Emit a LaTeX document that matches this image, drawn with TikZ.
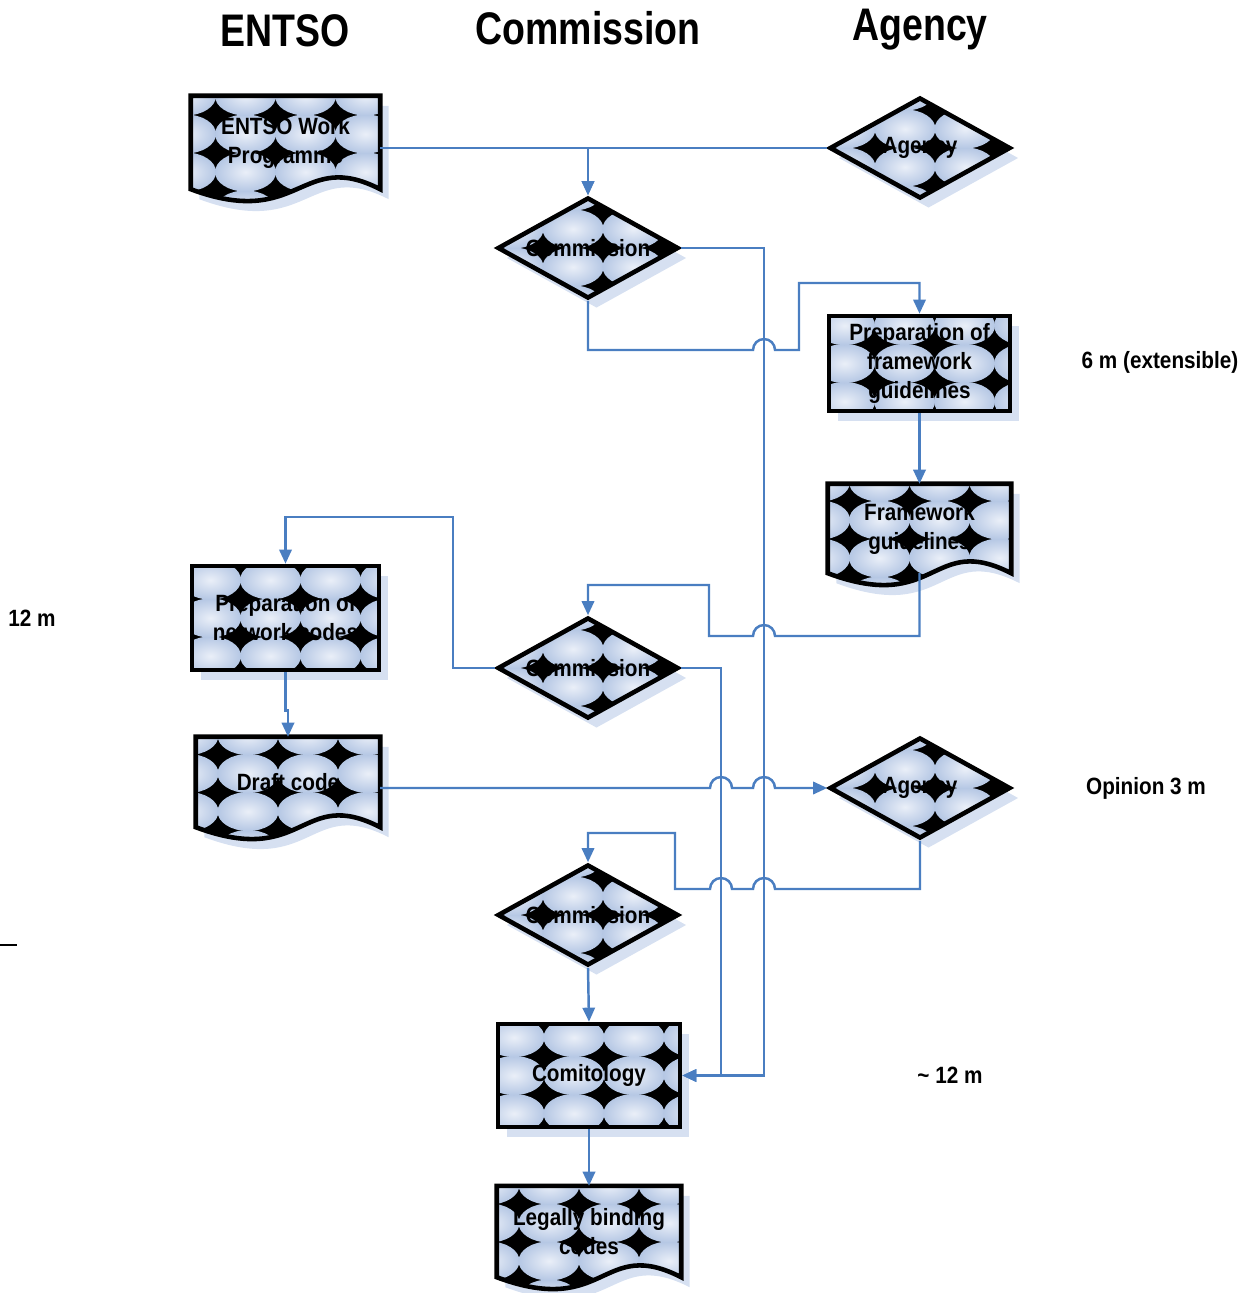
\documentclass[tikz,border=0pt]{standalone}
\usepackage{fontspec}
\setmainfont{Liberation Sans}[FakeStretch=0.88]
\newfontfamily\headfont{Liberation Sans}[FakeStretch=0.82]
\usetikzlibrary{shapes.geometric,arrows.meta,shadows,backgrounds,calc}
\definecolor{linkblue}{RGB}{74,126,193}
\definecolor{shadowblue}{RGB}{214,224,241}
\definecolor{tilelight}{RGB}{234,239,248}
\definecolor{tiledark}{RGB}{181,199,228}
\tikzset{
  tiles/.style 2 args={path picture={
    \fill[black] (path picture bounding box.south west) rectangle (path picture bounding box.north east);
    \foreach \i in {-2,...,1}
      \foreach \j in {-2,...,1}
        \shade[inner color=tilelight,outer color=tiledark]
          ($(path picture bounding box.center)+(\i*1.2+0.6+#1,\j*0.76+0.38+#2)$) ellipse[x radius=0.61,y radius=0.39];}},
  shade box/.style={drop shadow={shadow xshift=0.17cm,shadow yshift=-0.2cm,fill=shadowblue,opacity=1}},
}

\begin{document}
\begin{tikzpicture}[line width=1.4pt,>={Triangle[length=8pt,width=7pt]},
    every node/.style={font=\bfseries\fontsize{13.4}{16.5}\selectfont},
    head/.style={font=\headfont\bfseries\fontsize{26}{28}\selectfont,anchor=base},
    box/.style={rectangle,draw,line width=2.6pt,tiles={0.3}{0.38},shade box,align=center,
      minimum width=3.64cm,minimum height=2.06cm},
    doc/.style={rectangle,align=center,minimum width=3.64cm,minimum height=1.76cm},
    docpath/.style={draw,line width=2.6pt,tiles={-0.2}{0.2},shade box},
    dec/.style={diamond,draw,line width=2.6pt,tiles={0.3}{0},shade box,inner sep=0pt,
      minimum width=3.62cm,minimum height=2.02cm},
    link/.style={draw=linkblue,->}]
  \useasboundingbox (0,0) rectangle (25.1,-25.86);
  \node[head] (hentso) at (5.7,-0.92) {ENTSO};
  \node[head] (hcom) at (11.76,-0.88) {Commission};
  \node[head] (hag) at (18.4,-0.8) {Agency};

  \node[doc,minimum width=3.74cm,minimum height=1.82cm] (wp) at (5.71,-2.85) {ENTSO Work\\Programme};
  \node[dec,label=center:Agency] (ag1) at (18.4,-2.96) {};
  \node[dec,label=center:Commission] (com1) at (11.76,-4.96) {};
  \node[box,minimum width=3.62cm,minimum height=1.9cm] (pfg) at (18.39,-7.27) {Preparation of\\framework\\guidelines};
  \node[doc,minimum width=3.62cm,minimum height=1.74cm] (fg) at (18.39,-10.57) {Framework\\guidelines};
  \node[box,minimum width=3.74cm,minimum height=2.08cm] (pnc) at (5.71,-12.36) {Preparation of\\network codes};
  \node[dec,label=center:Commission] (com2) at (11.76,-13.36) {};
  \node[doc] (draft) at (5.76,-15.64) {Draft code};
  \node[dec,label=center:Agency] (ag2) at (18.4,-15.76) {};
  \node[dec,label=center:Commission] (com3) at (11.76,-18.3) {};
  \node[box] (comit) at (11.78,-21.51) {Comitology};
  \node[doc,minimum height=1.78cm] (lbc) at (11.78,-24.63) {Legally binding\\codes};

  \begin{scope}[on background layer]
    \foreach \d in {wp,fg,draft,lbc}
      \path[docpath] (\d.north west) -- (\d.north east) -- (\d.south east)
        .. controls +(-1.6,0.82) and +(2.2,-0.82) .. (\d.south west) -- cycle;
  \end{scope}

  \node (t1) at (23.2,-7.24) {6 m (extensible)};
  \node (t2) at (0.64,-12.36) {12 m};
  \node (t3) at (22.92,-15.76) {Opinion 3 m};
  \node (t4) at (19.0,-21.5) {\char`\~{} 12 m};
  \draw[line width=0.6pt] (0,-18.9) -- (0.34,-18.9);

  \coordinate (busA) at (15.28,0);
  \coordinate (busB) at (14.42,0);
  \draw[link] (wp.east |- ag1.west) -| (com1.north);
  \draw[link] (ag1.west) -| (com1.north);
  \draw[link] (com1.east) -| (busA |- comit.east) -- (comit.east);
  \draw[link] (com2.east) -| (busB |- comit.east) -- (comit.east);
  \draw[link] (com1.south) |- (15.06,-7) arc[start angle=180,end angle=0,radius=0.22]
    -- (15.98,-7) -- (15.98,-5.66) -| (pfg.north);
  \draw[link] (pfg.south) -- (fg.north);
  \draw[link] (fg.south) |- (15.5,-12.72) arc[start angle=0,end angle=180,radius=0.22]
    -- (14.18,-12.72) -- (14.18,-11.7) -| (com2.north);
  \draw[link] (com2.west) -| (9.06,-10.34) -| (pnc.north);
  \draw[link] (pnc.south) -- ++(0,-0.76) -| (draft.north);
  \draw[link] (draft.east |- ag2.west) -- (14.2,-15.76) arc[start angle=180,end angle=0,radius=0.22]
    -- (15.06,-15.76) arc[start angle=180,end angle=0,radius=0.22] -- (ag2.west);
  \draw[link] (ag2.south) |- (15.5,-17.78) arc[start angle=0,end angle=180,radius=0.22]
    -- (14.64,-17.78) arc[start angle=0,end angle=180,radius=0.22]
    -- (13.5,-17.78) -- (13.5,-16.66) -| (com3.north);
  \draw[link] (com3.south) -- (comit.north);
  \draw[link] (comit.south) -- (lbc.north);
\end{tikzpicture}
\end{document}
